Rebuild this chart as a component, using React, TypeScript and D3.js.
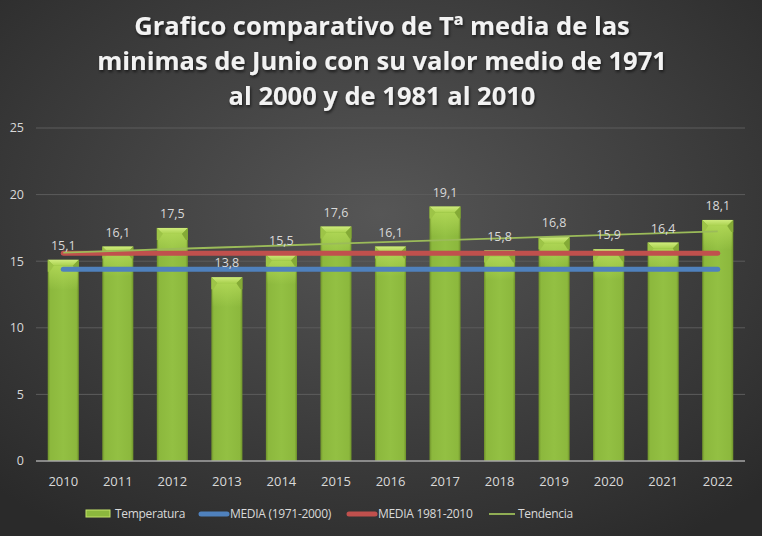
import { useEffect } from 'react';
import * as d3 from 'd3';

const years = ['2010', '2011', '2012', '2013', '2014', '2015', '2016', '2017', '2018', '2019', '2020', '2021', '2022'];
const temperatura = [15.1, 16.1, 17.5, 13.8, 15.5, 17.6, 16.1, 19.1, 15.8, 16.8, 15.9, 16.4, 18.1];
const media7100 = 14.4;
const media8110 = 15.6;
const yTicks = [0, 5, 10, 15, 20, 25];
const titleLines = [
  'Grafico comparativo de Tª media de las',
  'minimas de Junio con su valor medio de 1971',
  'al 2000 y de 1981 al 2010',
];

const W = 762;
const H = 536;
const margin = { top: 128, right: 17, bottom: 75, left: 36 };
const font = 'Open Sans, sans-serif';
const textColor = '#d9d9d9';

// least squares trend, like Excel's linear trendline
function trend(values: number[]) {
  const n = values.length;
  const mx = (n - 1) / 2;
  const my = d3.mean(values) ?? 0;
  let sxy = 0;
  let sxx = 0;
  values.forEach((v, i) => {
    sxy += (i - mx) * (v - my);
    sxx += (i - mx) * (i - mx);
  });
  const slope = sxy / sxx;
  return values.map((_, i) => my + slope * (i - mx));
}

const fmt = (v: number) => v.toFixed(1).replace('.', ',');

export default function App() {
  useEffect(() => {
    document.body.style.margin = '0';
  }, []);

  const x = d3.scaleBand().domain(years).range([margin.left, W - margin.right]).paddingInner(0.43).paddingOuter(0.215);
  const y = d3.scaleLinear().domain([0, 25]).range([H - margin.bottom, margin.top]);
  const cx = (yr: string) => (x(yr) ?? 0) + x.bandwidth() / 2;
  const bw = x.bandwidth();
  const trendVals = trend(temperatura);
  const first = cx(years[0]);
  const last = cx(years[years.length - 1]);
  const trendLine = d3
    .line<number>()
    .x((_, i) => cx(years[i]))
    .y((d) => y(d));

  return (
    <svg width={W} height={H} style={{ display: 'block' }}>
      <defs>
        <radialGradient id="bg" cx="50%" cy="40%" r="72%">
          <stop offset="0%" stopColor="#565656" />
          <stop offset="100%" stopColor="#2a2a2a" />
        </radialGradient>
        <linearGradient id="barBody" x1="0" x2="1" y1="0" y2="0">
          <stop offset="0%" stopColor="#6f922b" />
          <stop offset="8%" stopColor="#8cb83d" />
          <stop offset="50%" stopColor="#93c043" />
          <stop offset="92%" stopColor="#8cb83d" />
          <stop offset="100%" stopColor="#6f922b" />
        </linearGradient>
        <linearGradient id="barGlow" x1="0" x2="0" y1="0" y2="1">
          <stop offset="0%" stopColor="#b4da58" stopOpacity={0.8} />
          <stop offset="100%" stopColor="#b4da58" stopOpacity={0} />
        </linearGradient>
        <linearGradient id="barTop" x1="0" x2="0" y1="0" y2="1">
          <stop offset="0%" stopColor="#cfeb7c" />
          <stop offset="100%" stopColor="#a8d04e" />
        </linearGradient>
        <filter id="tshadow" x="-5%" y="-20%" width="110%" height="140%">
          <feDropShadow dx="1" dy="2" stdDeviation="1.5" floodColor="#000" floodOpacity={0.6} />
        </filter>
      </defs>
      <rect width={W} height={H} fill="url(#bg)" />

      {titleLines.map((t, i) => (
        <text
          key={i}
          x={W / 2 + 1}
          y={35 + i * 35}
          textAnchor="middle"
          fill="#f2f2f2"
          fontFamily={font}
          fontWeight={700}
          fontSize={25.5}
          filter="url(#tshadow)"
        >
          {t}
        </text>
      ))}

      {yTicks.map((t) => (
        <g key={t}>
          {t > 0 && (
            <line x1={margin.left} x2={W - margin.right} y1={y(t)} y2={y(t)} stroke="#5c5c5c" strokeWidth={1} />
          )}
          <text x={24} y={y(t)} dy="0.35em" textAnchor="end" fill={textColor} fontFamily={font} fontSize={12.5}>
            {t}
          </text>
        </g>
      ))}

      {temperatura.map((v, i) => {
        const bx = x(years[i]) ?? 0;
        const by = y(v);
        const bh = y(0) - by;
        const bev = 6;
        return (
          <g key={years[i]}>
            <rect x={bx} y={by} width={bw} height={bh} fill="url(#barBody)" />
            <rect x={bx + 1} y={by + bev} width={bw - 2} height={24} fill="url(#barGlow)" />
            <polygon
              points={`${bx},${by} ${bx + bw},${by} ${bx + bw - bev},${by + bev} ${bx + bev},${by + bev}`}
              fill="url(#barTop)"
            />
            <polygon points={`${bx},${by} ${bx + bev},${by + bev} ${bx + 2},${by + bev + 6} ${bx},${by + bev + 6}`} fill="#9dc447" />
            <polygon
              points={`${bx + bw},${by} ${bx + bw - bev},${by + bev} ${bx + bw - 2},${by + bev + 6} ${bx + bw},${by + bev + 6}`}
              fill="#84aa36"
            />
          </g>
        );
      })}

      <line x1={margin.left} x2={W - margin.right} y1={y(0)} y2={y(0)} stroke="#a6a6a6" strokeWidth={1.5} />

      <line x1={first} x2={last} y1={y(media7100)} y2={y(media7100)} stroke="#4f81bd" strokeWidth={5} strokeLinecap="round" />
      <line x1={first} x2={last} y1={y(media8110)} y2={y(media8110)} stroke="#c0504d" strokeWidth={5} strokeLinecap="round" />
      <path d={trendLine(trendVals) ?? ''} fill="none" stroke="#9bbb59" strokeWidth={1.8} />

      {temperatura.map((v, i) => (
        <text
          key={years[i]}
          x={cx(years[i])}
          y={y(v) - 10}
          textAnchor="middle"
          fill={textColor}
          fontFamily={font}
          fontSize={12.5}
        >
          {fmt(v)}
        </text>
      ))}

      {years.map((yr) => (
        <text key={yr} x={cx(yr)} y={486} textAnchor="middle" fill={textColor} fontFamily={font} fontSize={13}>
          {yr}
        </text>
      ))}

      <g fontFamily={font} fontSize={12} letterSpacing={-0.3} fill={textColor}>
        <rect x={86} y={510} width={24} height={7} fill="#8cb83d" stroke="#c4e36a" strokeWidth={1} />
        <text x={115} y={514} dy="0.35em">Temperatura</text>
        <line x1={201} x2={227} y1={514} y2={514} stroke="#4f81bd" strokeWidth={5} strokeLinecap="round" />
        <text x={230} y={514} dy="0.35em">MEDIA (1971-2000)</text>
        <line x1={349} x2={375} y1={514} y2={514} stroke="#c0504d" strokeWidth={5} strokeLinecap="round" />
        <text x={378} y={514} dy="0.35em">MEDIA 1981-2010</text>
        <line x1={489} x2={515} y1={514} y2={514} stroke="#9bbb59" strokeWidth={1.8} />
        <text x={518} y={514} dy="0.35em">Tendencia</text>
      </g>
    </svg>
  );
}
